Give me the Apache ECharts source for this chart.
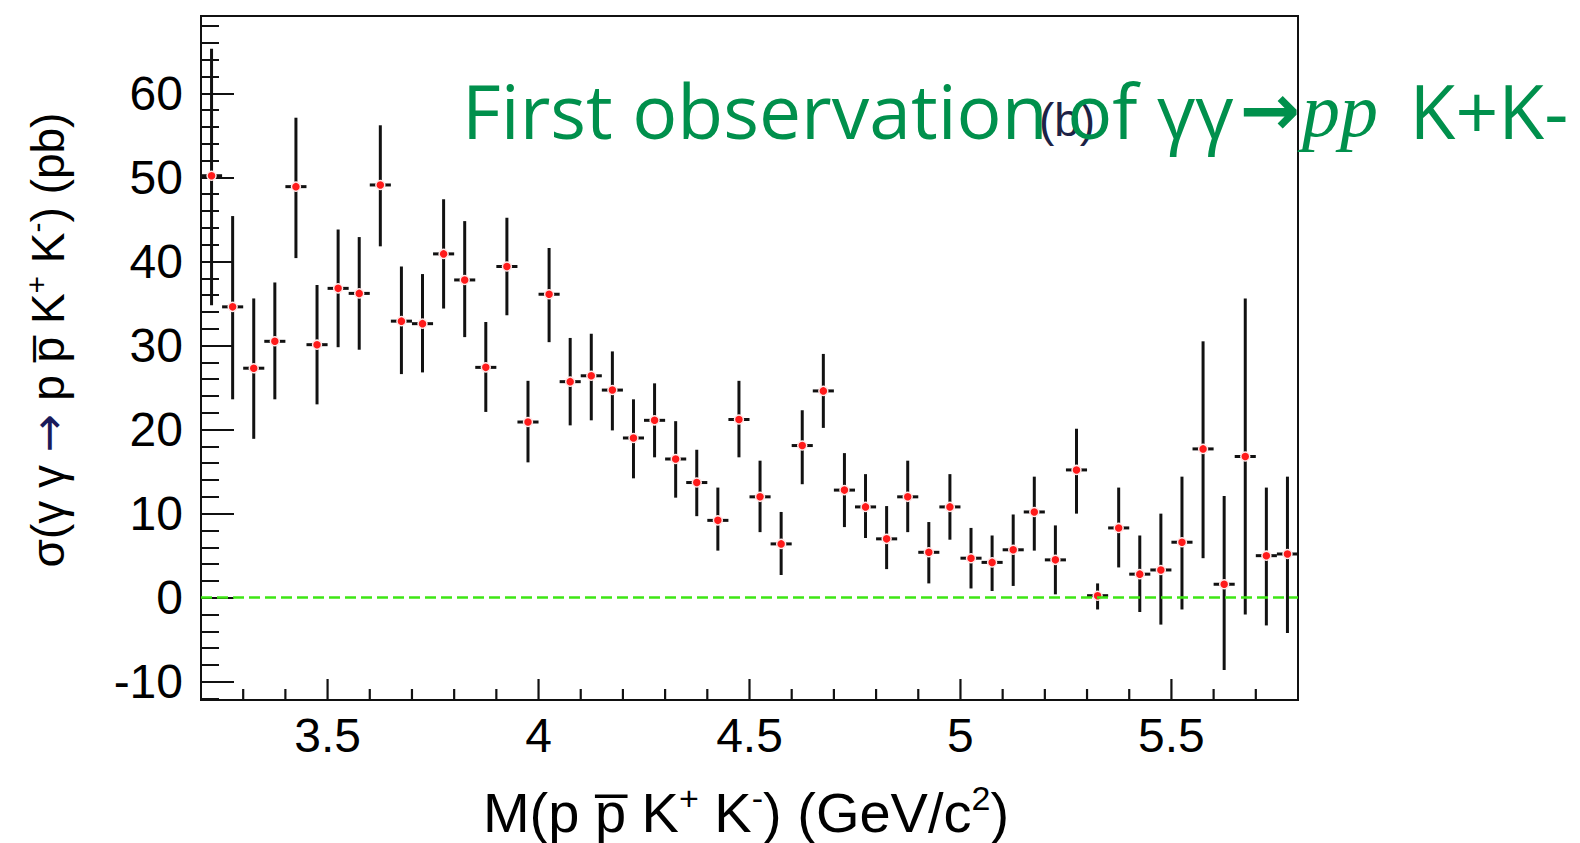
<!DOCTYPE html>
<html>
<head>
<meta charset="utf-8">
<script src="https://cdn.jsdelivr.net/npm/echarts@6/dist/echarts.min.js"></script>
<style>
html,body{margin:0;padding:0;background:#fff;}
#chart{width:1580px;height:843px;}
</style>
</head>
<body>
<div id="chart"></div>
<script>
// ---- data ----
const xCenters = [3.225,3.275,3.325,3.375,3.425,3.475,3.525,3.575,3.625,3.675,
  3.725,3.775,3.825,3.875,3.925,3.975,4.025,4.075,4.125,4.175,
  4.225,4.275,4.325,4.375,4.425,4.475,4.525,4.575,4.625,4.675,
  4.725,4.775,4.825,4.875,4.925,4.975,5.025,5.075,5.125,5.175,
  5.225,5.275,5.325,5.375,5.425,5.475,5.525,5.575,5.625,5.675,
  5.725,5.775];
const yVals = [50.2,34.6,27.3,30.5,48.9,30.1,36.8,36.2,49.1,32.9,
  32.6,40.9,37.8,27.4,39.4,20.9,36.1,25.7,26.4,24.7,
  19.0,21.1,16.5,13.7,9.2,21.2,12.0,6.4,18.1,24.6,
  12.8,10.8,7.0,12.0,5.4,10.8,4.7,4.2,5.7,10.2,
  4.5,15.2,0.24,8.3,2.8,3.3,6.6,17.7,1.6,16.8,
  5.0,5.2];
const yLow = [34.8,23.6,18.9,23.6,40.4,23.0,29.8,29.5,41.8,26.6,
  26.8,34.4,31.0,22.1,33.6,16.1,30.4,20.5,21.1,19.9,
  14.2,16.7,11.9,9.7,5.6,16.7,7.8,2.7,13.5,20.2,
  8.4,7.1,3.4,7.8,1.7,6.9,1.1,0.8,1.4,5.6,
  0.4,10.0,-1.4,3.6,-1.7,-3.2,-1.4,4.7,-8.6,-2.0,
  -3.3,-4.2];
const yHigh = [65.3,45.4,35.6,37.5,57.1,37.2,43.8,42.9,56.2,39.4,
  38.5,47.4,44.8,32.8,45.2,25.8,41.6,30.9,31.4,29.3,
  23.6,25.5,21.0,17.6,13.1,25.8,16.3,10.2,22.3,29.0,
  17.2,14.7,10.9,16.3,9.0,14.7,8.3,7.4,9.9,14.4,
  8.6,20.1,1.7,13.1,7.4,10.0,14.4,30.5,12.1,35.6,
  13.1,14.4];
const xErr = 0.025; // half bin width

const xMajorTicks = [3.5,4,4.5,5,5.5];
const xMinorTicks = [3.3,3.4,3.6,3.7,3.8,3.9,4.1,4.2,4.3,4.4,4.6,4.7,4.8,4.9,5.1,5.2,5.3,5.4,5.6,5.7];
const yMajorTicks = [-10,0,10,20,30,40,50,60];
const yMinorTicks = [-12,-8,-6,-4,-2,2,4,6,8,12,14,16,18,22,24,26,28,32,34,36,38,42,44,46,48,52,54,56,58,62,64,66,68];

const xMin = 3.2, xMax = 5.8, yMin = -12.17, yMax = 69.2;

const titleMain = 'First observation of γγ';
const titleArrow = '→';
const titleItalic = 'pp';
const titleEnd = ' K+K-';
const panelLabel = '(b)';

// ---- build ----
const pts = xCenters.map((x, i) => [x, yVals[i], yLow[i], yHigh[i]]);
const axisFont = 'Liberation Sans';
const gridBox = {left: 201, top: 16, right: 282, bottom: 143};
const tickLine = {color: '#111', width: 2};

const chart = echarts.init(document.getElementById('chart'), null, {renderer: 'svg'});

// x-axis ticks drawn inside the frame, placed through the x/y scales of grid 0
function xTickSeries(values, len) {
  return {
    type: 'custom', xAxisIndex: 0, yAxisIndex: 0,
    data: values.map(v => [v, yMin]),
    encode: {x: 0, y: 1},
    clip: false, z: 6, silent: true,
    renderItem: function (params, api) {
      const p = api.coord([api.value(0), api.value(1)]);
      return {type: 'line', z2: 10,
              shape: {x1: p[0], y1: p[1], x2: p[0], y2: p[1] - len},
              style: {stroke: '#111', lineWidth: 2.2}};
    }
  };
}

chart.setOption({
  animation: false,
  backgroundColor: '#fff',
  grid: [
    Object.assign({show: true, borderColor: '#111', borderWidth: 2, backgroundColor: 'transparent'}, gridBox),
    Object.assign({show: false}, gridBox)
  ],
  xAxis: [
    {
      type: 'value', min: xMin, max: xMax, position: 'bottom', gridIndex: 0,
      splitLine: {show: false},
      axisLine: {show: true, onZero: false, lineStyle: tickLine},
      axisTick: {show: false},
      axisLabel: {show: true, customValues: xMajorTicks, margin: 11,
                  fontFamily: axisFont, fontSize: 48, color: '#000',
                  formatter: v => String(v)}
    },
    {
      type: 'value', min: xMin, max: xMax, gridIndex: 1, show: false,
      splitLine: {show: false}, axisLine: {show: false, onZero: false}
    }
  ],
  yAxis: [
    {
      type: 'value', min: yMin, max: yMax, position: 'left', gridIndex: 0,
      splitLine: {show: false},
      axisLine: {show: true, onZero: false, lineStyle: tickLine},
      axisTick: {show: true, inside: true, length: 33, customValues: yMajorTicks, lineStyle: tickLine},
      axisLabel: {show: true, customValues: yMajorTicks, margin: 18,
                  fontFamily: axisFont, fontSize: 48, color: '#000',
                  formatter: v => String(v)}
    },
    {
      type: 'value', min: yMin, max: yMax, position: 'left', gridIndex: 1,
      splitLine: {show: false},
      axisLine: {show: false, onZero: false},
      axisTick: {show: true, inside: true, length: 18, customValues: yMinorTicks, lineStyle: tickLine},
      axisLabel: {show: false}
    }
  ],
  series: [
    xTickSeries(xMajorTicks, 21),
    xTickSeries(xMinorTicks, 11),
    {
      type: 'custom',
      xAxisIndex: 0, yAxisIndex: 0,
      data: pts,
      encode: {x: 0, y: [1, 2, 3]},
      clip: true,
      z: 3,
      renderItem: function (params, api) {
        const x = api.value(0), y = api.value(1), lo = api.value(2), hi = api.value(3);
        const pLo = api.coord([x, lo]);
        const pHi = api.coord([x, hi]);
        const pL = api.coord([x - xErr, y]);
        const pR = api.coord([x + xErr, y]);
        const st = {stroke: '#111', lineWidth: 3};
        return {
          type: 'group',
          children: [
            {type: 'line', shape: {x1: pLo[0], y1: pLo[1], x2: pHi[0], y2: pHi[1]}, style: st},
            {type: 'line', shape: {x1: pL[0], y1: pL[1], x2: pR[0], y2: pR[1]}, style: st}
          ]
        };
      }
    },
    {
      type: 'scatter',
      xAxisIndex: 0, yAxisIndex: 0,
      data: pts.map(p => [p[0], p[1]]),
      symbol: 'circle',
      symbolSize: 9,
      z: 4,
      itemStyle: {color: '#ff1a1a', borderColor: '#ffe8e8', borderWidth: 1.5, opacity: 1},
      markLine: {
        silent: true,
        symbol: ['none', 'none'],
        label: {show: false},
        lineStyle: {color: '#3ee614', width: 2.5, type: [11, 5], opacity: 1},
        data: [{yAxis: 0}]
      }
    }
  ],
  graphic: [
    {
      type: 'text', z: 1,
      style: {
        x: 1067, y: 120, text: panelLabel,
        fontFamily: axisFont, fontSize: 46, fill: '#1d2245',
        align: 'center', verticalAlign: 'middle'
      }
    },
    {
      type: 'text', z: 10,
      style: {
        x: 462, y: 110,
        text: '{a|' + titleMain + '}{r|' + titleArrow + '}{b|' + titleItalic + '}{e|' + titleEnd + '}',
        align: 'left', verticalAlign: 'middle',
        rich: {
          a: {fontFamily: 'Open Sans', fontSize: 75, fill: '#00904c', color: '#00904c'},
          r: {fontFamily: 'DejaVu Sans', fontWeight: 'bold', fontSize: 72, padding: [0, 2, 0, 6], fill: '#00904c', color: '#00904c'},
          b: {fontFamily: 'Liberation Serif', fontStyle: 'italic', fontSize: 76, fill: '#00904c', color: '#00904c'},
          e: {fontFamily: 'Open Sans', fontSize: 75, padding: [0, 0, 0, 12], fill: '#00904c', color: '#00904c'}
        }
      }
    },
    {
      type: 'text', z: 5,
      style: {
        x: 746, y: 812,
        text: '{m|M(p p\u0305 K}{s|+}{m| K}{s|-}{m|) (GeV/c}{s|2}{m|)}',
        align: 'center', verticalAlign: 'middle',
        rich: {
          m: {fontFamily: axisFont, fontSize: 56, lineHeight: 62, fill: '#000', color: '#000'},
          s: {fontFamily: axisFont, fontSize: 34, lineHeight: 28, verticalAlign: 'top', fill: '#000', color: '#000'}
        }
      }
    },
    {
      type: 'text', z: 5,
      x: 48, y: 340, rotation: Math.PI / 2,
      style: {
        x: 0, y: 0,
        text: '{m|σ(γ γ }{r|→}{m| p p\u0305 K}{s|+}{m| K}{s|-}{m|) (pb)}',
        align: 'center', verticalAlign: 'middle',
        rich: {
          m: {fontFamily: axisFont, fontSize: 46, lineHeight: 54, fill: '#000', color: '#000'},
          r: {fontFamily: 'DejaVu Sans', fontSize: 46, lineHeight: 54, fill: '#1a1a5a', color: '#1a1a5a'},
          s: {fontFamily: axisFont, fontSize: 30, lineHeight: 26, verticalAlign: 'top', fill: '#000', color: '#000'}
        }
      }
    }
  ]
});
</script>
</body>
</html>
